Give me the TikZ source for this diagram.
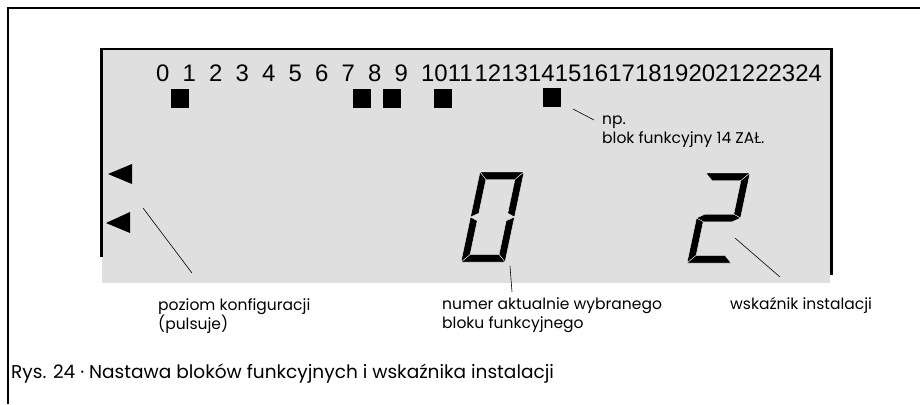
\documentclass[tikz,border=0pt]{standalone}
\usepackage{fontspec}
\setmainfont{Poppins}
\newfontfamily\lcdfont{Liberation Sans}
\usetikzlibrary{positioning}
\definecolor{panel}{HTML}{DFDFDF}
\tikzset{
  lbl/.style={anchor=base west, align=left, inner sep=0pt, font=\fontsize{15.6}{19}\selectfont},
  lead/.style={line width=0.6bp},
  seg/.style={fill=black, draw=white, line width=0.35bp}}
% seven-segment geometry: width, height, thickness, middle
\def\dW{44}\def\dH{90}\def\dt{7.5}\def\dM{45}
\newcommand{\lcda}{(0,\dH) -- (\dW,\dH) -- (\dW-\dt,\dH-\dt) -- (\dt,\dH-\dt) -- cycle}
\newcommand{\lcdb}{(\dW,\dH) -- (\dW,\dM) -- (\dW-\dt,\dM+\dt/2) -- (\dW-\dt,\dH-\dt) -- cycle}
\newcommand{\lcdc}{(\dW,\dM) -- (\dW,0) -- (\dW-\dt,\dt) -- (\dW-\dt,\dM-\dt/2) -- cycle}
\newcommand{\lcdd}{(0,0) -- (\dW,0) -- (\dW-\dt,\dt) -- (\dt,\dt) -- cycle}
\newcommand{\lcde}{(0,\dM) -- (\dt,\dM-\dt/2) -- (\dt,\dt) -- (0,0) -- cycle}
\newcommand{\lcdf}{(0,\dH) -- (\dt,\dH-\dt) -- (\dt,\dM+\dt/2) -- (0,\dM) -- cycle}
\newcommand{\lcdg}{(0,\dM) -- (\dt,\dM+\dt/2) -- (\dW-\dt,\dM+\dt/2) -- (\dW,\dM) -- (\dW-\dt,\dM-\dt/2) -- (\dt,\dM-\dt/2) -- cycle}
\newcommand{\lcddigit}[3]{%
  \begin{scope}[shift={(#1,#2)}, x=1bp, y=1bp, xslant=0.211]
    \foreach \s in {#3} \fill[seg] \csname lcd\s\endcsname;
  \end{scope}}

\begin{document}
\begin{tikzpicture}[x=1bp, y=-1bp,
  num/.style={anchor=base west, inner sep=0pt, font=\lcdfont\fontsize{24}{28}\selectfont},
  blk/.style={fill, minimum width=17.5bp, minimum height=18.5bp, inner sep=0pt},
  tri/.style={fill=black}]
\useasboundingbox (0,0) rectangle (920,404);
\draw[line width=2bp] (8,404) -- (8,8) -- (920,8);
% display
\fill[panel] (102,50) rectangle (830,283);
\draw[line width=2.7bp] (101.5,257) -- (101.5,49) -- (831.5,49) -- (831.5,275);
\foreach \n in {0,...,9} \node[num] (n\n) at (156+26.5*\n,81) {\n};
\foreach \n in {10,...,24} \node[num] (n\n) at (421+26.73*\n-267.3,81) {\n};
\foreach \x/\y [count=\i] in {171/89, 353/89, 383/89, 434/89, 543/88}
  \node[blk] (b\i) at (\x+8.75,\y+9.25) {};
\fill[tri] (108,174) -- (132,164) -- (132,184) -- cycle;
\fill[tri] (106,223) -- (130,212) -- (130,233) -- cycle;
\lcddigit{461}{262}{a,b,c,d,e,f}
\lcddigit{687}{263}{a,b,g,e,d}
% labels (base = last line)
\node[lbl] (np) at (602,143.5) {np.\\blok funkcyjny 14 ZAŁ.};
\node[lbl] (konf) at (158,329) {poziom konfiguracji\\(pulsuje)};
\node[lbl] (numer) at (442,328) {numer aktualnie wybranego\\bloku funkcyjnego};
\node[lbl] (wsk) at (730,309) {wskaźnik instalacji};
\node[lbl, font=\fontsize{18.6}{23}\selectfont] (rys) at (11,378) {Rys. 24 · Nastawa bloków funkcyjnych i wskaźnika instalacji};
\coordinate (p14) at (573,109); \coordinate (p14e) at (594,120);
\coordinate (pk) at (143,208); \coordinate (pke) at (192,273);
\coordinate (pn) at (510,266); \coordinate (pne) at (512,292);
\coordinate (pw) at (735,238); \coordinate (pwe) at (780,277);
\foreach \a/\b in {p14/p14e, pk/pke, pn/pne, pw/pwe} \draw[lead] (\a) -- (\b);
\end{tikzpicture}
\end{document}
